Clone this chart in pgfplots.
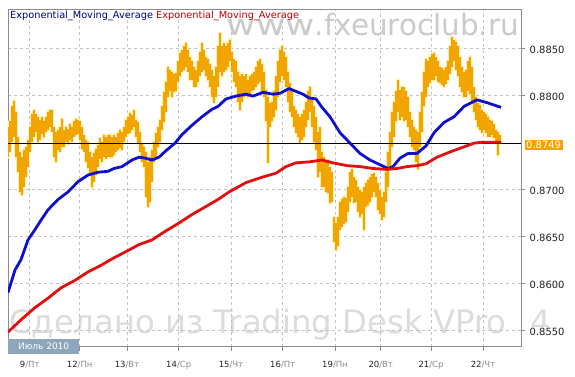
\documentclass[border=0pt]{standalone}
\usepackage{graphicx}
\usepackage{pgfplots}
\pgfplotsset{compat=1.18}
\usepackage{pgfplotstable}
\usepackage{fontspec}
\setmainfont{DejaVu Sans}
\definecolor{barorange}{HTML}{F2A400}
\definecolor{halo}{HTML}{FFF0B0}
\definecolor{emablue}{HTML}{1010CC}
\definecolor{emared}{HTML}{E01010}
\definecolor{legblue}{HTML}{000080}
\definecolor{legred}{HTML}{C00000}
\definecolor{gridgray}{HTML}{C4C4C4}
\definecolor{framegray}{HTML}{8C8C8C}
\definecolor{wmgray}{HTML}{CBCBCB}
\definecolor{wmgray2}{HTML}{DCDCDC}
\definecolor{daygray}{HTML}{8A8A8A}
\definecolor{boxblue}{HTML}{8CA6BC}
\definecolor{lastorange}{HTML}{F2A400}
\definecolor{labeldark}{HTML}{222222}

\pgfplotstableread{
x lo hi
8 .8734 .8766
10 .8740 .8772
12 .8750 .8788
14 .8756 .8794
16 .8734 .8782
18 .8718 .8756
20 .8697 .8740
22 .8694 .8734
24 .8702 .8742
26 .8713 .8745
28 .8724 .8752
30 .8740 .8766
32 .8750 .8780
34 .8756 .8784
36 .8761 .8780
38 .8750 .8777
40 .8752 .8774
42 .8759 .8777
44 .8755 .8772
46 .8761 .8777
48 .8763 .8782
50 .8766 .8784
52 .8761 .8784
54 .8734 .8766
56 .8729 .8761
58 .8742 .8763
60 .8740 .8766
62 .8745 .8775
64 .8745 .8763
66 .8750 .8766
68 .8748 .8764
70 .8752 .8769
72 .8750 .8766
74 .8756 .8772
76 .8758 .8775
78 .8759 .8774
80 .8752 .8772
82 .8743 .8766
84 .8740 .8758
86 .8729 .8752
88 .8722 .8750
90 .8716 .8740
92 .8702 .8734
94 .8708 .8738
96 .8715 .8743
98 .8724 .8747
100 .8732 .8754
102 .8729 .8750
104 .8734 .8758
106 .8732 .8756
108 .8734 .8758
110 .8734 .8758
112 .8734 .8756
114 .8736 .8758
116 .8740 .8756
118 .8742 .8760
120 .8744 .8763
122 .8742 .8761
124 .8750 .8766
126 .8756 .8774
128 .8759 .8777
130 .8760 .8781
132 .8763 .8779
134 .8766 .8784
136 .8756 .8774
138 .8749 .8771
140 .8740 .8761
142 .8729 .8749
144 .8724 .8745
146 .8692 .8739
148 .8681 .8729
150 .8686 .8734
152 .8708 .8742
154 .8729 .8750
156 .8734 .8760
158 .8745 .8766
160 .8750 .8774
162 .8763 .8788
164 .8771 .8803
166 .8782 .8814
168 .8798 .8830
170 .8804 .8827
172 .8798 .8825
174 .8803 .8822
176 .8804 .8824
178 .8814 .8836
180 .8820 .8845
182 .8825 .8848
184 .8827 .8852
186 .8830 .8856
188 .8825 .8848
190 .8816 .8841
192 .8816 .8836
194 .8809 .8830
196 .8809 .8827
198 .8814 .8836
200 .8820 .8846
202 .8825 .8856
204 .8827 .8848
206 .8820 .8841
208 .8816 .8838
210 .8809 .8833
212 .8798 .8827
214 .8792 .8820
216 .8798 .8830
218 .8809 .8852
220 .8825 .8866
222 .8820 .8852
224 .8825 .8856
226 .8827 .8852
228 .8830 .8856
230 .8836 .8859
232 .8825 .8846
234 .8814 .8838
236 .8809 .8836
238 .8793 .8825
240 .8784 .8820
242 .8793 .8823
244 .8798 .8820
246 .8801 .8822
248 .8798 .8816
250 .8801 .8820
252 .8804 .8822
254 .8806 .8825
256 .8809 .8830
258 .8812 .8836
260 .8814 .8838
262 .8804 .8833
264 .8798 .8825
266 .8772 .8806
268 .8728 .8798
270 .8766 .8792
272 .8772 .8793
274 .8777 .8804
276 .8784 .8820
278 .8798 .8836
280 .8814 .8848
282 .8820 .8852
284 .8816 .8846
286 .8809 .8841
288 .8793 .8825
290 .8782 .8813
292 .8777 .8804
294 .8766 .8788
296 .8760 .8784
298 .8756 .8780
300 .8749 .8777
302 .8752 .8780
304 .8756 .8784
306 .8766 .8793
308 .8774 .8804
310 .8782 .8809
312 .8766 .8798
314 .8750 .8788
316 .8742 .8777
318 .8713 .8761
320 .8718 .8766
322 .8702 .8740
324 .8702 .8734
326 .8697 .8729
328 .8696 .8731
330 .8685 .8724
332 .8686 .8718
334 .8644 .8670
336 .8635 .8664
338 .8639 .8670
340 .8657 .8686
342 .8660 .8689
344 .8663 .8692
346 .8665 .8691
348 .8676 .8702
350 .8686 .8718
352 .8692 .8721
354 .8685 .8713
356 .8686 .8710
358 .8676 .8702
360 .8670 .8699
362 .8674 .8697
364 .8657 .8702
366 .8681 .8707
368 .8683 .8710
370 .8686 .8713
372 .8692 .8716
374 .8697 .8717
376 .8692 .8713
378 .8678 .8707
380 .8674 .8699
382 .8667 .8692
384 .8670 .8697
386 .8686 .8718
388 .8702 .8740
390 .8724 .8761
392 .8745 .8782
394 .8756 .8793
396 .8772 .8804
398 .8782 .8816
400 .8774 .8806
402 .8777 .8809
404 .8772 .8809
406 .8774 .8804
408 .8766 .8798
410 .8756 .8782
412 .8745 .8774
414 .8742 .8766
416 .8729 .8763
418 .8721 .8761
420 .8745 .8782
422 .8761 .8803
424 .8788 .8825
426 .8798 .8838
428 .8809 .8836
430 .8813 .8841
432 .8816 .8844
434 .8816 .8845
436 .8820 .8841
438 .8814 .8836
440 .8813 .8830
442 .8811 .8829
444 .8809 .8827
446 .8812 .8830
448 .8816 .8836
450 .8823 .8852
452 .8830 .8862
454 .8836 .8859
456 .8827 .8857
458 .8820 .8852
460 .8809 .8841
462 .8803 .8830
464 .8798 .8825
466 .8798 .8827
468 .8804 .8836
470 .8801 .8841
472 .8792 .8830
474 .8782 .8809
476 .8774 .8798
478 .8766 .8792
480 .8763 .8790
482 .8760 .8784
484 .8763 .8782
486 .8760 .8780
488 .8756 .8777
490 .8756 .8774
492 .8758 .8772
494 .8754 .8769
496 .8749 .8763
498 .8736 .8761
500 .8749 .8758
}\bars

\begin{document}
\begin{tikzpicture}[x=1bp,y=1bp]
\useasboundingbox (0,0) rectangle (575,376);
\fill[white] (0,0) rectangle (575,376);
% watermarks
\node[anchor=base east, inner sep=0, text=wmgray, font=\fontsize{29.5}{30}\selectfont] at (519,341) {\scalebox{1.22}[1]{www}.fxeuroclub.ru};
\node[anchor=base west, inner sep=0, text=wmgray2, font=\fontsize{32.4}{33}\selectfont] at (9,43) {Сделано из Trading Desk VPro\hspace{24bp}4};
\begin{axis}[
  at={(8,31)}, anchor=south west,
  width=513bp, height=337bp, scale only axis,
  xmin=8, xmax=521, ymin=0.853223, ymax=0.889074,
  axis line style={draw=framegray, line width=1bp},
  xtick={29.7,79.7,127,178.7,231,282.7,335,380.7,431,483},
  xticklabels={{9\textcolor{daygray}{/Пт}},{12\textcolor{daygray}{/Пн}},{13\textcolor{daygray}{/Вт}},{14\textcolor{daygray}{/Ср}},{15\textcolor{daygray}{/Чт}},{16\textcolor{daygray}{/Пт}},{19\textcolor{daygray}{/Пн}},{20\textcolor{daygray}{/Вт}},{21\textcolor{daygray}{/Ср}},{22\textcolor{daygray}{/Чт}}},
  ytick={0.855,0.86,0.865,0.87,0.88,0.885},
  scaled y ticks=false,
  xtick pos=lower, ytick pos=right, yticklabel pos=right,
  tick align=outside, major tick length=4bp,
  tick style={draw=framegray, line width=0.8bp},
  grid=major,
  major grid style={draw=gridgray, line width=0.8bp, dash pattern=on 3bp off 3bp},
  /pgf/number format/assume math mode=true,
  y tick label style={/pgf/number format/.cd, fixed, fixed zerofill, precision=4, /tikz/.cd,
     font=\fontsize{10}{12}\selectfont, text=labeldark, anchor=west, inner sep=1bp, fill=white, xshift=3.5bp, yshift=-2bp},
  x tick label style={font=\fontsize{8.5}{10}\selectfont, text=labeldark, anchor=base, yshift=-17bp},
  extra y ticks={0.8749},
  extra y tick style={grid=none, major tick length=0pt,
     y tick label style={fill=lastorange, text=white, inner sep=1.5bp}},
]
% orange bars: halo then bar
\addplot[forget plot, draw=none, mark=none,
  error bars/.cd, y dir=plus, y explicit, error mark=none,
  error bar style={draw=halo, line width=3.2bp, line cap=round}]
  table[x=x, y=lo, y error expr=\thisrow{hi}-\thisrow{lo}] {\bars};
\addplot[forget plot, draw=none, mark=none,
  error bars/.cd, y dir=plus, y explicit, error mark=none,
  error bar style={draw=barorange, line width=1.1bp}]
  table[x=x, y=lo, y error expr=\thisrow{hi}-\thisrow{lo}] {\bars};
% last price line
\addplot[black, line width=0.9bp] coordinates {(8,0.8749) (521,0.8749)};
% EMA blue
\addplot[emablue, line width=2.8bp, line join=round] coordinates {
(8,.8590) (15,.8614) (21,.8625) (28,.8646) (35,.8657) (41,.8667) (48,.8678) (58,.8689) (68,.8697) (78,.8708) (88,.8715) (98,.8718) (108,.8719) (114,.8722) (122,.8724) (132,.8731) (139,.8734) (145,.8733) (152,.8731) (159,.8734) (165,.8740) (175,.8749) (182,.8758) (192,.8768) (202,.8777) (212,.8785) (218,.8788) (226,.8796) (236,.8799) (246,.8801) (253,.8799) (263,.8803) (273,.8801) (280,.8802) (289,.8807) (296,.8804) (303,.8801) (309,.8797) (316,.8796) (322,.8787) (330,.8777) (340,.8760) (350,.8749) (360,.8738) (370,.8731) (380,.8726) (388,.8722) (393,.8724) (400,.8733) (408,.8738) (417,.8738) (426,.8746) (434,.8760) (444,.8771) (454,.8777) (464,.8788) (477,.8795) (487,.8792) (501,.8787)};
% EMA red
\addplot[emared, line width=2.8bp, line join=round] coordinates {
(8,.8548) (21,.8561) (35,.8574) (48,.8584) (61,.8595) (75,.8603) (88,.8612) (101,.8619) (114,.8627) (125,.8633) (139,.8641) (152,.8646) (165,.8655) (179,.8664) (192,.8673) (205,.8681) (218,.8689) (229,.8697) (246,.8707) (263,.8713) (276,.8717) (286,.8724) (296,.8728) (309,.8729) (322,.8731) (333,.8728) (347,.8725) (360,.8724) (373,.8722) (387,.8721) (397,.8722) (407,.8724) (417,.8725) (426,.8727) (437,.8734) (451,.8740) (464,.8745) (474,.8749) (484,.8750) (501,.8750)};
\end{axis}
% month box
\node[fill=boxblue, text=white, minimum width=71bp, minimum height=15bp, inner sep=0,
  font=\fontsize{9}{10}\selectfont, anchor=south west] at (8,22) {Июль 2010};
% legend line
\node[anchor=base west, inner sep=0, font=\fontsize{9.8}{11}\selectfont] at (10,357.3)
  {\textcolor{legblue}{Exponential\_Moving\_Average} \textcolor{legred}{Exponential\_Moving\_Average}};
\end{tikzpicture}
\end{document}
